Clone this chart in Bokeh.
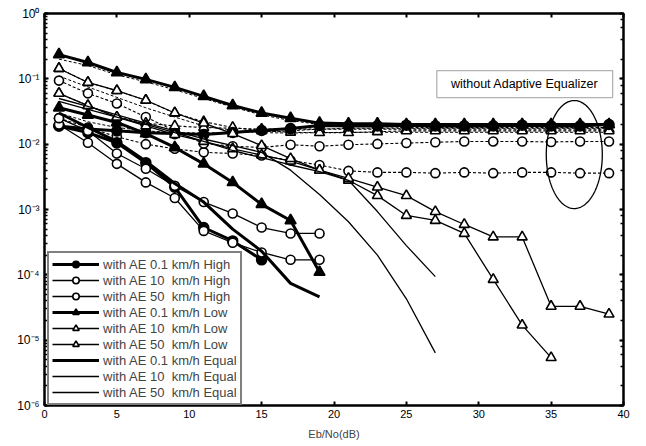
import numpy as np
from bokeh.plotting import figure
from bokeh.models import (LogAxis, LinearAxis, Label, BoxAnnotation, Legend, LegendItem,
                          FixedTicker, LogTicker, CustomJSTickFormatter, Range1d)
from bokeh.embed import file_html
from bokeh.resources import INLINE

# ---------------- data ----------------
snr = [1, 3, 5, 7, 9, 11, 13, 15, 17, 19, 21, 23, 25, 27, 29, 31, 33, 35, 37, 39]

# with adaptive equalizer (legend entries)
ae01_high = [0.019, 0.015, 0.0105, 0.0052, 0.0022, 0.00053, 0.00033, 0.00017]
ae10_high = [0.020, 0.0105, 0.005, 0.0026, 0.0015, 0.00047, 0.00031, 0.00022, 0.00017, 0.00017]
ae50_high = [0.025, 0.016, 0.0072, 0.0042, 0.0023, 0.0013, 0.00087, 0.00053, 0.00043, 0.00043]
ae01_low = [0.036, 0.028, 0.0215, 0.0145, 0.0089, 0.005, 0.0026, 0.0012, 0.00068, 0.00011]
ae10_low = [0.06, 0.039, 0.026, 0.019, 0.014, 0.011, 0.0085, 0.0068, 0.0055, 0.004, 0.0028,
            0.00163, 0.00081, 0.00068, 0.00043, 8.5e-5, 1.7e-5, 5.4e-6]
ae50_low = [0.144, 0.088, 0.066, 0.047, 0.030, 0.021, 0.0145, 0.0095, 0.006, 0.004, 0.003,
            0.0022, 0.00163, 0.00093, 0.00059, 0.00038, 0.00038, 3.3e-5, 3.3e-5, 2.5e-5]
ae01_eq = [0.030, 0.018, 0.011, 0.0055, 0.0025, 0.0013, 0.0005, 0.00023, 7.4e-5, 4.6e-5]
ae10_eq = [0.045, 0.034, 0.026, 0.020, 0.015, 0.011, 0.008, 0.0062, 0.0048, 0.0038, 0.0028,
           0.00093, 0.00028, 9.4e-5]
ae50_eq = [0.050, 0.038, 0.028, 0.021, 0.016, 0.012, 0.0095, 0.0075, 0.004, 0.0017, 0.00065,
           0.0002, 4.3e-5, 6.4e-6]

# without adaptive equalizer (error floors)
wo01_high = [0.019, 0.017, 0.016, 0.015, 0.0145, 0.014, 0.0151, 0.0162, 0.0173, 0.0193, 0.019,
             0.019, 0.0195, 0.019, 0.019, 0.019, 0.0195, 0.019, 0.019, 0.020]
wo01_low = [0.235, 0.178, 0.125, 0.098, 0.074, 0.054, 0.039, 0.030, 0.025, 0.021, 0.0205,
            0.0205, 0.020, 0.020, 0.020, 0.020, 0.020, 0.020, 0.020, 0.020]
wo10_high = [0.025, 0.018, 0.013, 0.010, 0.0085, 0.0075, 0.0072, 0.0067, 0.0056, 0.0048, 0.0039,
             0.0037, 0.0037, 0.0036, 0.0037, 0.0036, 0.0037, 0.0037, 0.0036, 0.0036]
wo50_high = [0.094, 0.06, 0.042, 0.026, 0.016, 0.0102, 0.0093, 0.0089, 0.0098, 0.0093, 0.0098,
             0.0101, 0.0104, 0.0107, 0.011, 0.011, 0.011, 0.0108, 0.011, 0.011]
wo10_low = [0.06, 0.039, 0.026, 0.021, 0.019, 0.018, 0.0175, 0.017, 0.017, 0.017, 0.017,
            0.017, 0.017, 0.017, 0.017, 0.017, 0.017, 0.017, 0.017, 0.017]
wo50_low = [0.144, 0.088, 0.066, 0.047, 0.030, 0.022, 0.018, 0.016, 0.0152, 0.015, 0.015,
            0.0155, 0.016, 0.016, 0.016, 0.016, 0.016, 0.016, 0.016, 0.016]
wo01_eq = [0.20, 0.16, 0.115, 0.09, 0.068, 0.05, 0.037, 0.028, 0.023, 0.020, 0.019,
           0.0185, 0.018, 0.018, 0.018, 0.018, 0.018, 0.018, 0.018, 0.018]
wo10_eq = [0.030, 0.022, 0.018, 0.016, 0.015, 0.0148, 0.015, 0.0155, 0.016, 0.017, 0.0175,
           0.0175, 0.0175, 0.0175, 0.0175, 0.0175, 0.0175, 0.0175, 0.0175, 0.0175]
wo50_eq = [0.11, 0.075, 0.052, 0.036, 0.026, 0.019, 0.016, 0.015, 0.0148, 0.015, 0.0152,
           0.0152, 0.0152, 0.0152, 0.0152, 0.0152, 0.0152, 0.0152, 0.0152, 0.0152]

legend_labels = ["with AE 0.1 km/h High", "with AE 10  km/h High", "with AE 50  km/h High",
                 "with AE 0.1 km/h Low", "with AE 10  km/h Low", "with AE 50  km/h Low",
                 "with AE 0.1 km/h Equal", "with AE 10  km/h Equal", "with AE 50  km/h Equal"]
x_ticks = [0, 5, 10, 15, 20, 25, 30, 35, 40]
note_text = "without Adaptive Equalizer"
x_title = "Eb/No(dB)"

FONT = "Liberation Sans"

# ---------------- figure ----------------
p = figure(width=646, height=446, y_axis_type="log",
           x_range=Range1d(0, 40), y_range=Range1d(1e-6, 1),
           output_backend="svg", toolbar_location=None,
           min_border_left=44, min_border_right=23, min_border_top=13, min_border_bottom=41)
p.xgrid.grid_line_color = None
p.ygrid.grid_line_color = None
p.outline_line_color = "black"
p.outline_line_width = 2
p.background_fill_color = "white"
p.border_fill_color = "white"

def style_axis(ax, labels=True):
    ax.axis_line_width = 2
    ax.axis_line_color = "black"
    ax.major_tick_in = 4
    ax.major_tick_out = 0
    ax.major_tick_line_width = 2
    ax.minor_tick_in = 3
    ax.minor_tick_out = 0
    ax.minor_tick_line_width = 1.5
    ax.major_label_text_font = FONT
    ax.major_label_text_font_size = "11px"
    ax.major_label_text_color = "black"
    if not labels:
        ax.formatter = CustomJSTickFormatter(code="return ''")
        ax.major_label_standoff = 0

xa = p.xaxis[0]
xa.ticker = FixedTicker(ticks=x_ticks)
style_axis(xa)
xa.minor_tick_line_color = None
xa.major_label_standoff = 4
xa.axis_label = x_title
xa.axis_label_text_font = FONT
xa.axis_label_text_font_size = "11px"
xa.axis_label_text_font_style = "normal"
xa.axis_label_standoff = 7

ya = p.yaxis[0]
style_axis(ya)
ya.formatter = CustomJSTickFormatter(code="""
const sup = {'0':'\u2070','1':'\u00b9','2':'\u00b2','3':'\u00b3','4':'\u2074',
             '5':'\u2075','6':'\u2076','7':'\u2077','8':'\u2078','9':'\u2079','-':'\u207b'};
const e = Math.round(Math.log10(tick));
return '10' + String(e).split('').map(c => sup[c]).join('');
""")
ya.major_label_standoff = 5
ya.major_label_text_font_size = "12px"

top = LinearAxis(ticker=FixedTicker(ticks=x_ticks))
style_axis(top, labels=False)
top.minor_tick_line_color = None
p.add_layout(top, "above")

right = LogAxis(ticker=LogTicker())
style_axis(right, labels=False)
p.add_layout(right, "right")

# ---------------- plotting helper ----------------
def series(ys, width, dash, marker, fill, size):
    xs = snr[:len(ys)]
    r_line = p.line(xs, ys, line_color="black", line_width=width, line_dash=dash)
    r_mark = None
    if marker is not None:
        r_mark = p.scatter(xs, ys, marker=marker, size=size, line_color="black",
                           line_width=1.6, fill_color=fill)
    return r_line, r_mark

# without-AE curves (drawn first)
series(wo01_eq, 1.0, "3 2", None, None, 0)
series(wo10_eq, 1.0, "3 2", None, None, 0)
series(wo50_eq, 1.0, "3 2", None, None, 0)
series(wo10_high, 1.1, "3 2", "circle", "white", 9)
series(wo50_high, 1.1, "3 2", "circle", "white", 9)
series(wo10_low, 1.1, "3 2", "triangle", "white", 10)
series(wo50_low, 1.1, "3 2", "triangle", "white", 10)
series(wo01_high, 3.0, "solid", "circle", "black", 10)
series(wo01_low, 3.0, "solid", "triangle", "black", 11)

# with-AE curves
specs = [
    (ae01_high, 3.0, "circle", "black", 10),
    (ae10_high, 1.3, "circle", "white", 9),
    (ae50_high, 1.3, "circle", "white", 9),
    (ae01_low, 3.0, "triangle", "black", 11),
    (ae10_low, 1.3, "triangle", "white", 10),
    (ae50_low, 1.3, "triangle", "white", 10),
    (ae01_eq, 3.0, None, None, 0),
    (ae10_eq, 1.3, None, None, 0),
    (ae50_eq, 1.3, None, None, 0),
]
items = []
for (ys, w, m, f, s), lab in zip(specs, legend_labels):
    rl, rm = series(ys, w, "solid", m, f, s)
    rs = [rl] + ([rm] if rm is not None else [])
    items.append(LegendItem(label=lab, renderers=rs))

legend = Legend(items=items, location=(3, 0), orientation="vertical",
                label_text_font=FONT, label_text_font_size="13px",
                glyph_width=47, glyph_height=16, label_height=16, label_standoff=4,
                spacing=0, padding=3, margin=0,
                border_line_color="black", border_line_width=2,
                background_fill_color="white", background_fill_alpha=1.0)
p.add_layout(legend, "center")

# ---------------- annotation: text box + ellipse ----------------
box = BoxAnnotation(left=27.1, right=39.25, bottom=0.0517, top=0.134,
                    fill_color="white", fill_alpha=1.0, line_color="black", line_width=1.3)
p.add_layout(box)
p.add_layout(Label(x=33.17, y=10 ** -1.072, text=note_text, text_align="center",
                   text_baseline="middle", text_font=FONT, text_font_size="12.5px",
                   text_color="black"))

cx, cy_log, rx, ry = 36.6, -2.159, 1.935, 0.827
t = np.linspace(0, 2 * np.pi, 200)
p.line(cx + rx * np.cos(t), 10 ** (cy_log + ry * np.sin(t)), line_color="black", line_width=1.3)

open("out.html", "w").write(file_html(p, INLINE))
